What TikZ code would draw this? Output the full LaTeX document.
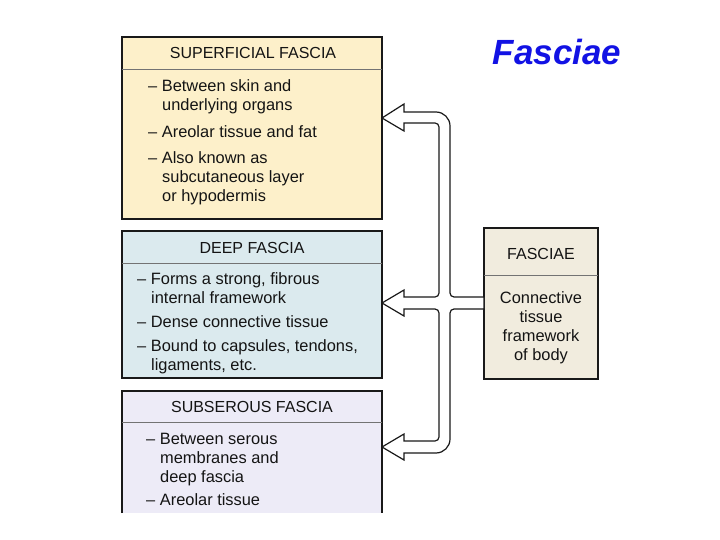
\documentclass[tikz,border=0pt]{standalone}
\usepackage{fontspec}
\setmainfont{Liberation Sans}
\definecolor{supfill}{RGB}{253,240,202}
\definecolor{deepfill}{RGB}{219,234,238}
\definecolor{subfill}{RGB}{237,235,247}
\definecolor{fasfill}{RGB}{241,236,222}
\definecolor{titleblue}{RGB}{18,18,228}
\tikzset{
	boxline/.style={line width=1.2pt, draw=black!90},
	divline/.style={line width=0.9pt, draw=black!55},
	headtxt/.style={anchor=base, inner sep=0pt, text=black!92, font=\fontsize{16}{19}\selectfont},
	bodytxt/.style={anchor=base west, inner sep=0pt, text=black!92, font=\fontsize{16.4}{19}\selectfont},
	arrowline/.style={line width=1.2pt, draw=black!90, fill=white, line join=miter}
}

\begin{document}
\begin{tikzpicture}[x=1pt, y=1pt]
			%%%%% START %%%%%
			\useasboundingbox (0, 0) rectangle (720, -540);
			
			\node[anchor=base, inner sep=0pt, text=titleblue, font=\fontsize{35}{40}\selectfont\bfseries\itshape] (title) at (557, -65) {Fasciae};
			
			% superficial fascia
			\draw[boxline, fill=supfill] (122, -37) rectangle (382, -219);
			\draw[divline] (122, -69) -- (382, -69);
			\node[headtxt] (supHead) at (253, -59) {SUPERFICIAL FASCIA};
			\node[bodytxt] (supA) at (148, -92) {\textendash\ Between skin and};
			\node[bodytxt] (supAb) at (162, -111) {underlying organs};
			\node[bodytxt] (supB) at (148, -138) {\textendash\ Areolar tissue and fat};
			\node[bodytxt] (supC) at (148, -164) {\textendash\ Also known as};
			\node[bodytxt] (supCb) at (162, -183) {subcutaneous layer};
			\node[bodytxt] (supCc) at (162, -202) {or hypodermis};
			
			% deep fascia
			\draw[boxline, fill=deepfill] (122, -231) rectangle (382, -378);
			\draw[divline] (122, -263) -- (382, -263);
			\node[headtxt] (deepHead) at (252, -254) {DEEP FASCIA};
			\node[bodytxt] (deepA) at (137, -284) {\textendash\ Forms a strong, fibrous};
			\node[bodytxt] (deepAb) at (151, -303) {internal framework};
			\node[bodytxt] (deepB) at (137, -327) {\textendash\ Dense connective tissue};
			\node[bodytxt] (deepC) at (137, -351) {\textendash\ Bound to capsules, tendons,};
			\node[bodytxt] (deepCb) at (151, -370) {ligaments, etc.};
			
			% subserous fascia (cut at the bottom)
			\fill[subfill] (122, -391) rectangle (382, -513);
			\draw[boxline] (122, -513) -- (122, -391) -- (382, -391) -- (382, -513);
			\draw[divline] (122, -422) -- (382, -422);
			\node[headtxt] (subHead) at (252, -412) {SUBSEROUS FASCIA};
			\node[bodytxt] (subA) at (146, -444) {\textendash\ Between serous};
			\node[bodytxt] (subAb) at (160, -463) {membranes and};
			\node[bodytxt] (subAc) at (160, -482) {deep fascia};
			\node[bodytxt] (subB) at (146, -505) {\textendash\ Areolar tissue};
			
			% fasciae
			\draw[boxline, fill=fasfill] (484, -228) rectangle (598, -379);
			\draw[divline] (484, -275) -- (598, -275);
			\node[headtxt] (fasHead) at (541, -259) {FASCIAE};
			\node[headtxt, font=\fontsize{16.4}{19}\selectfont] (fasA) at (541, -303) {Connective};
			\node[headtxt, font=\fontsize{16.4}{19}\selectfont] (fasB) at (541, -322) {tissue};
			\node[headtxt, font=\fontsize{16.4}{19}\selectfont] (fasC) at (541, -341) {framework};
			\node[headtxt, font=\fontsize{16.4}{19}\selectfont] (fasD) at (541, -360) {of body};
			
			% hollow arrow
			\draw[arrowline] (382, -118) -- (404, -104) -- (404, -112) -- (436, -112)
				arc[start angle=90, end angle=0, radius=14pt] -- (450, -293)
				arc[start angle=180, end angle=270, radius=4pt] -- (484, -297)
				-- (484, -309) -- (454, -309)
				arc[start angle=90, end angle=180, radius=4pt] -- (450, -439)
				arc[start angle=0, end angle=-90, radius=14pt] -- (404, -453)
				-- (404, -460) -- (382, -447) -- (404, -434) -- (404, -441) -- (435, -441)
				arc[start angle=-90, end angle=0, radius=4pt] -- (439, -313)
				arc[start angle=0, end angle=90, radius=4pt] -- (404, -309)
				-- (404, -316) -- (382, -303) -- (404, -290) -- (404, -297) -- (435, -297)
				arc[start angle=-90, end angle=0, radius=4pt] -- (439, -127)
				arc[start angle=0, end angle=90, radius=4pt] -- (404, -123)
				-- (404, -131) -- cycle;
			
			%%%%% END %%%%%
\end{tikzpicture}
\end{document}
